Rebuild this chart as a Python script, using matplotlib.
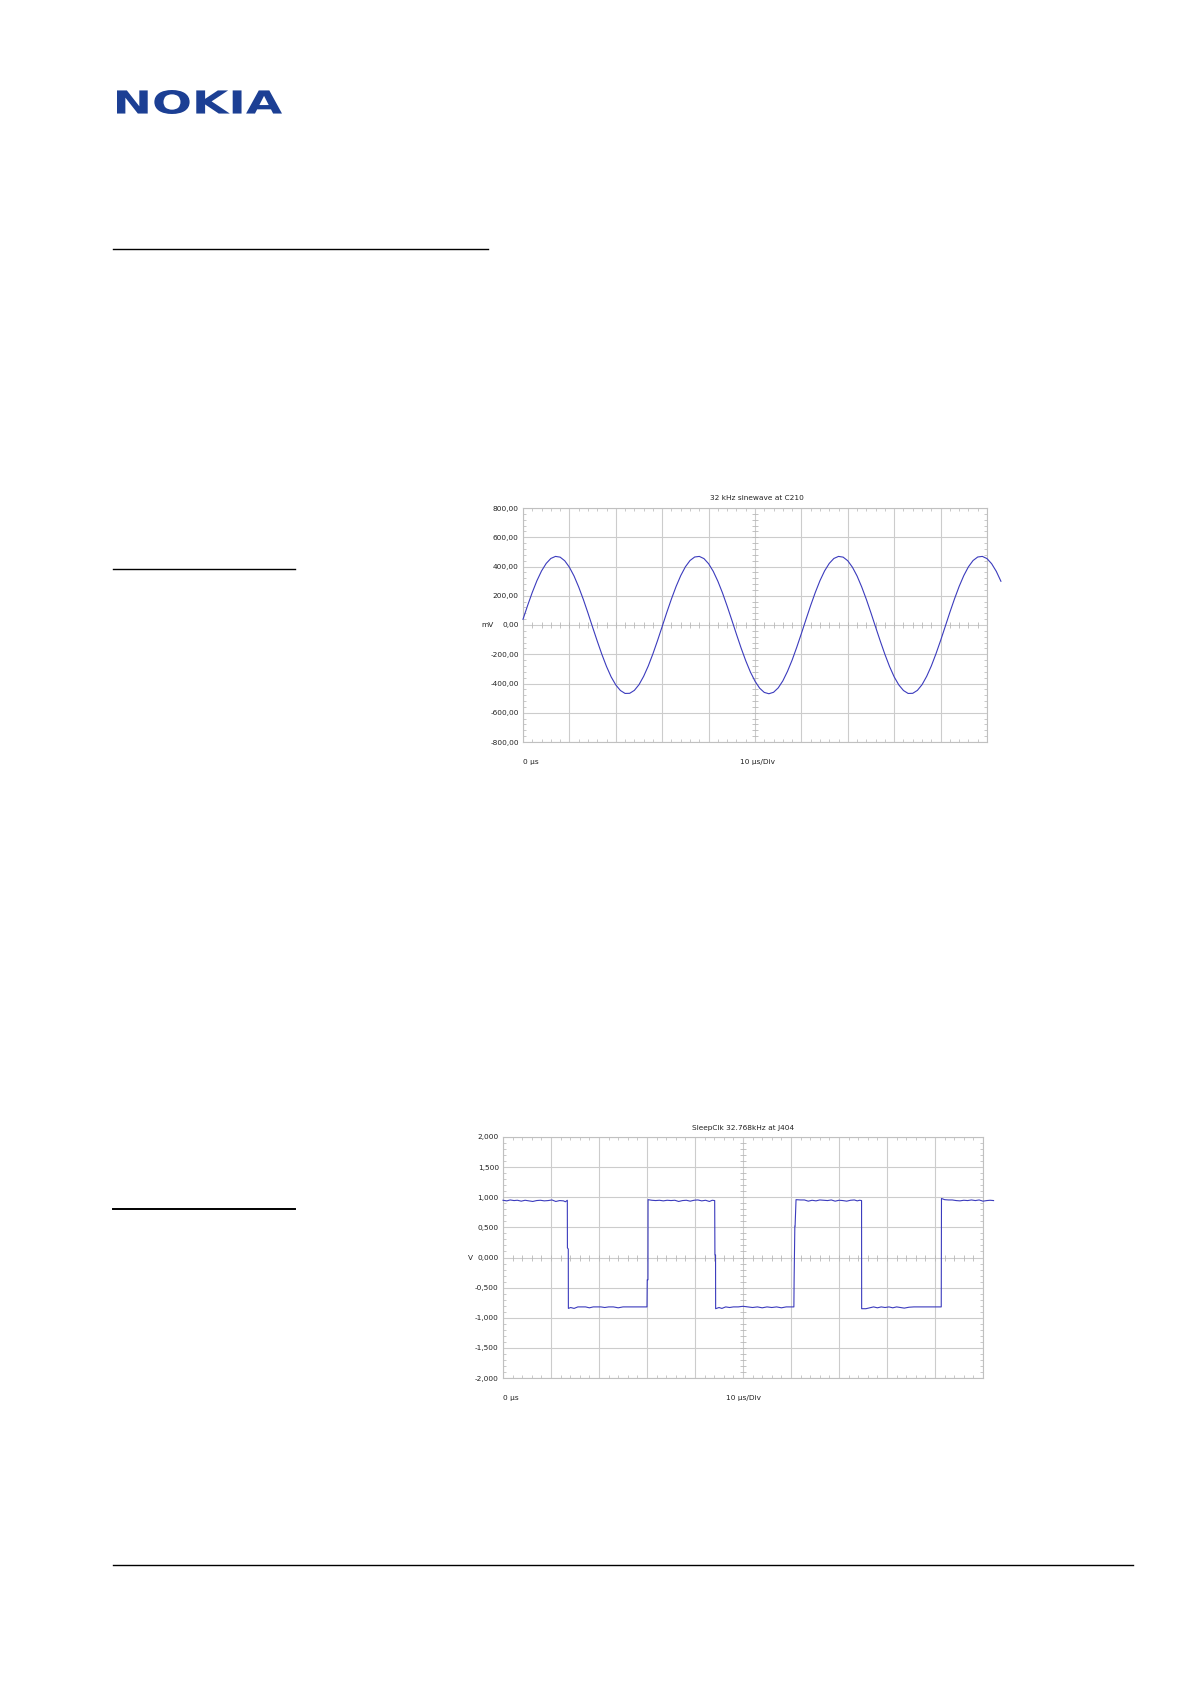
import matplotlib
matplotlib.use('Agg')
import matplotlib.pyplot as plt
from matplotlib.ticker import MultipleLocator, FixedLocator, FixedFormatter
from matplotlib.textpath import TextPath
from matplotlib.patches import PathPatch
from matplotlib.font_manager import FontProperties
from matplotlib.transforms import Affine2D, IdentityTransform

W, H = 1190, 1684

# 32 kHz sinewave, one sample per microsecond (mV)
sine_t = list(range(0, 104))
sine_mv = [39, 134, 223, 303, 370, 421, 455, 469, 464, 439,
           395, 335, 260, 175, 82, -15, -110, -201, -284, -355,
           -410, -448, -468, -467, -447, -408, -351, -280, -197, -106,
           -10, 87, 179, 264, 338, 398, 441, 465, 469, 454,
           419, 367, 299, 219, 129, 34, -63, -157, -244, -321,
           -384, -432, -461, -470, -460, -430, -382, -317, -240, -152,
           -58, 39, 134, 223, 303, 370, 421, 455, 469, 464,
           439, 395, 335, 260, 175, 82, -15, -110, -201, -284,
           -355, -410, -448, -468, -467, -447, -408, -351, -280, -197,
           -106, -10, 87, 179, 264, 338, 398, 441, 465, 469,
           454, 419, 367, 299]

# SleepClk square wave (us, V)
clk_t = [0, 0.8, 1.5, 2.3, 3.0, 3.8, 4.6, 5.4, 6.2, 7.0, 7.8, 8.6, 9.4, 10.2, 11.0, 11.8, 12.6, 13.0, 13.4,
         13.42, 13.6,
         13.62, 14.1, 14.8, 15.6, 16.4, 17.2, 18.0, 18.8, 19.6, 20.4, 21.2, 22.0, 23.0, 24.0, 25.0, 26.0,
         27.0, 28.0, 29.0, 30.0,
         30.05, 30.2,
         30.22, 31.0, 31.8, 32.6, 33.4, 34.2, 35.0, 35.8, 36.6, 37.4, 38.2, 39.0, 39.8, 40.6, 41.4, 42.2,
         43.0, 43.6, 44.1,
         44.15, 44.28,
         44.3, 45.0, 45.6, 46.4, 47.2, 48.0, 49.0, 50.0, 51.0, 52.0, 53.0, 54.0, 55.0, 56.0, 57.0, 58.0,
         59.0, 60.0, 60.6,
         60.65, 60.8, 60.85,
         61.05, 62.0, 62.8, 63.6, 64.4, 65.2, 66.0, 66.8, 67.6, 68.4, 69.2, 70.0, 70.8, 71.6, 72.4, 73.2,
         73.8, 74.3, 74.7,
         74.72, 75.6, 76.4, 77.2, 78.0, 78.8, 79.6, 80.4, 81.2, 82.0, 82.8, 83.6, 84.6, 85.6, 86.6, 87.6,
         88.6, 89.6, 91.3,
         91.35, 92.0, 92.8, 93.6, 94.4, 95.2, 96.0, 96.8, 97.6, 98.4, 99.2, 100.0, 100.8, 101.5, 102.2]
clk_v = [0.95, 0.94, 0.955, 0.945, 0.95, 0.935, 0.95, 0.94, 0.93, 0.945, 0.95, 0.94, 0.945, 0.955, 0.93, 0.945, 0.94, 0.925, 0.95,
         0.16, 0.14,
         -0.845, -0.83, -0.845, -0.82, -0.82, -0.82, -0.835, -0.82, -0.82, -0.82, -0.83, -0.82, -0.82, -0.835, -0.82, -0.82,
         -0.82, -0.82, -0.82, -0.82,
         -0.37, -0.37,
         0.96, 0.95, 0.945, 0.95, 0.94, 0.95, 0.945, 0.95, 0.93, 0.945, 0.95, 0.935, 0.95, 0.955, 0.94, 0.95,
         0.93, 0.95, 0.945,
         0.04, 0.04,
         -0.85, -0.83, -0.845, -0.82, -0.83, -0.82, -0.82, -0.81, -0.82, -0.83, -0.82, -0.835, -0.82, -0.83, -0.82, -0.835,
         -0.82, -0.82, -0.82,
         -0.36, 0.52, 0.52,
         0.96, 0.955, 0.955, 0.935, 0.95, 0.94, 0.955, 0.95, 0.945, 0.955, 0.935, 0.95, 0.945, 0.935, 0.95, 0.955,
         0.94, 0.95, 0.945,
         -0.85, -0.85, -0.835, -0.82, -0.835, -0.82, -0.83, -0.82, -0.835, -0.82, -0.83, -0.84, -0.825, -0.82, -0.82, -0.82,
         -0.82, -0.82, -0.82,
         0.98, 0.96, 0.955, 0.955, 0.945, 0.94, 0.95, 0.945, 0.955, 0.945, 0.955, 0.935, 0.945, 0.95, 0.945]

sine_yticks = [800, 600, 400, 200, 0, -200, -400, -600, -800]
sine_ylabels = ['800,00', '600,00', '400,00', '200,00', '0,00', '-200,00', '-400,00', '-600,00', '-800,00']
clk_yticks = [2.0, 1.5, 1.0, 0.5, 0.0, -0.5, -1.0, -1.5, -2.0]
clk_ylabels = ['2,000', '1,500', '1,000', '0,500', '0,000', '-0,500', '-1,000', '-1,500', '-2,000']

TRACE = '#3b3bbd'
GRID = '#cccccc'
FS = 5.3


def px(x, y):
    return x / W, 1 - y / H


def scope(box, t, v, yticks, ylabels, ystep, title, unit, title_xy, unit_xy, foot_y):
    x0, y0, x1, y1 = box
    ax = fig.add_axes([x0 / W, 1 - y1 / H, (x1 - x0) / W, (y1 - y0) / H])
    ax.set_xlim(0, 100)
    ax.set_ylim(yticks[-1], yticks[0])
    ax.plot(t, v, color=TRACE, lw=0.8, clip_on=False, zorder=3)
    ax.xaxis.set_major_locator(MultipleLocator(10))
    ax.xaxis.set_minor_locator(MultipleLocator(2))
    ax.yaxis.set_major_locator(FixedLocator(yticks))
    ax.yaxis.set_major_formatter(FixedFormatter(ylabels))
    ax.yaxis.set_minor_locator(MultipleLocator(ystep / 5))
    ax.grid(True, which='major', color=GRID, lw=0.8)
    ax.tick_params(which='major', length=0, labelsize=FS, pad=3, labelbottom=False, colors='#222222')
    ax.tick_params(which='minor', direction='in', length=2.5, width=0.6, color='#c0c0c0',
                   top=True, right=True, bottom=True, left=True)
    for s in ax.spines.values():
        s.set_color('#c0c0c0')
        s.set_linewidth(0.8)
    # ticks along the centre cross
    xm = [i * 2 for i in range(51)]
    ym = [yticks[-1] + i * ystep / 5 for i in range(41)]
    ax.plot(xm, [0] * len(xm), ls='none', marker='|', ms=5, mew=0.6, color='#b8b8b8', zorder=2)
    ax.plot([50] * len(ym), ym, ls='none', marker='_', ms=5, mew=0.6, color='#b8b8b8', zorder=2)
    fig.text(*px(*title_xy), title, ha='center', va='center', fontsize=FS, color='#222222')
    fig.text(*px(*unit_xy), unit, ha='center', va='center', fontsize=FS, color='#222222')
    fig.text(*px(x0, foot_y), '0 µs', ha='left', va='center', fontsize=FS, color='#222222')
    fig.text(*px(title_xy[0], foot_y), '10 µs/Div', ha='center', va='center', fontsize=FS, color='#222222')
    return ax


fig = plt.figure(figsize=(W / 100, H / 100), dpi=100)

# logo
tp = TextPath((0, 0), 'NOKIA', size=100, prop=FontProperties(family='DejaVu Sans', weight='bold'))
ext = tp.get_extents()
tr = Affine2D().translate(-ext.x0, -ext.y0).scale(165 / ext.width, 24 / ext.height).translate(117, H - 114)
fig.add_artist(PathPatch(tr.transform_path(tp), color='#1c3f94', lw=0, transform=IdentityTransform()))

# rules
for xa, xb, y, lw in [(113, 488, 249, 1.0), (113, 295, 569, 1.0), (113, 295, 1209, 1.4), (113, 1133, 1565, 1.0)]:
    fig.add_artist(plt.Line2D([xa / W, xb / W], [1 - y / H, 1 - y / H], color='black', lw=lw,
                              transform=fig.transFigure))

scope((523, 508, 987, 742), sine_t, sine_mv, sine_yticks, sine_ylabels, 200,
      '32 kHz sinewave at C210', 'mV', (757, 498), (488, 625), 762)
scope((503, 1137, 983, 1378), clk_t, clk_v, clk_yticks, clk_ylabels, 0.5,
      'SleepClk 32.768kHz at J404', 'V', (743, 1128), (470, 1258), 1398)

fig.savefig('out.png', dpi=100)
